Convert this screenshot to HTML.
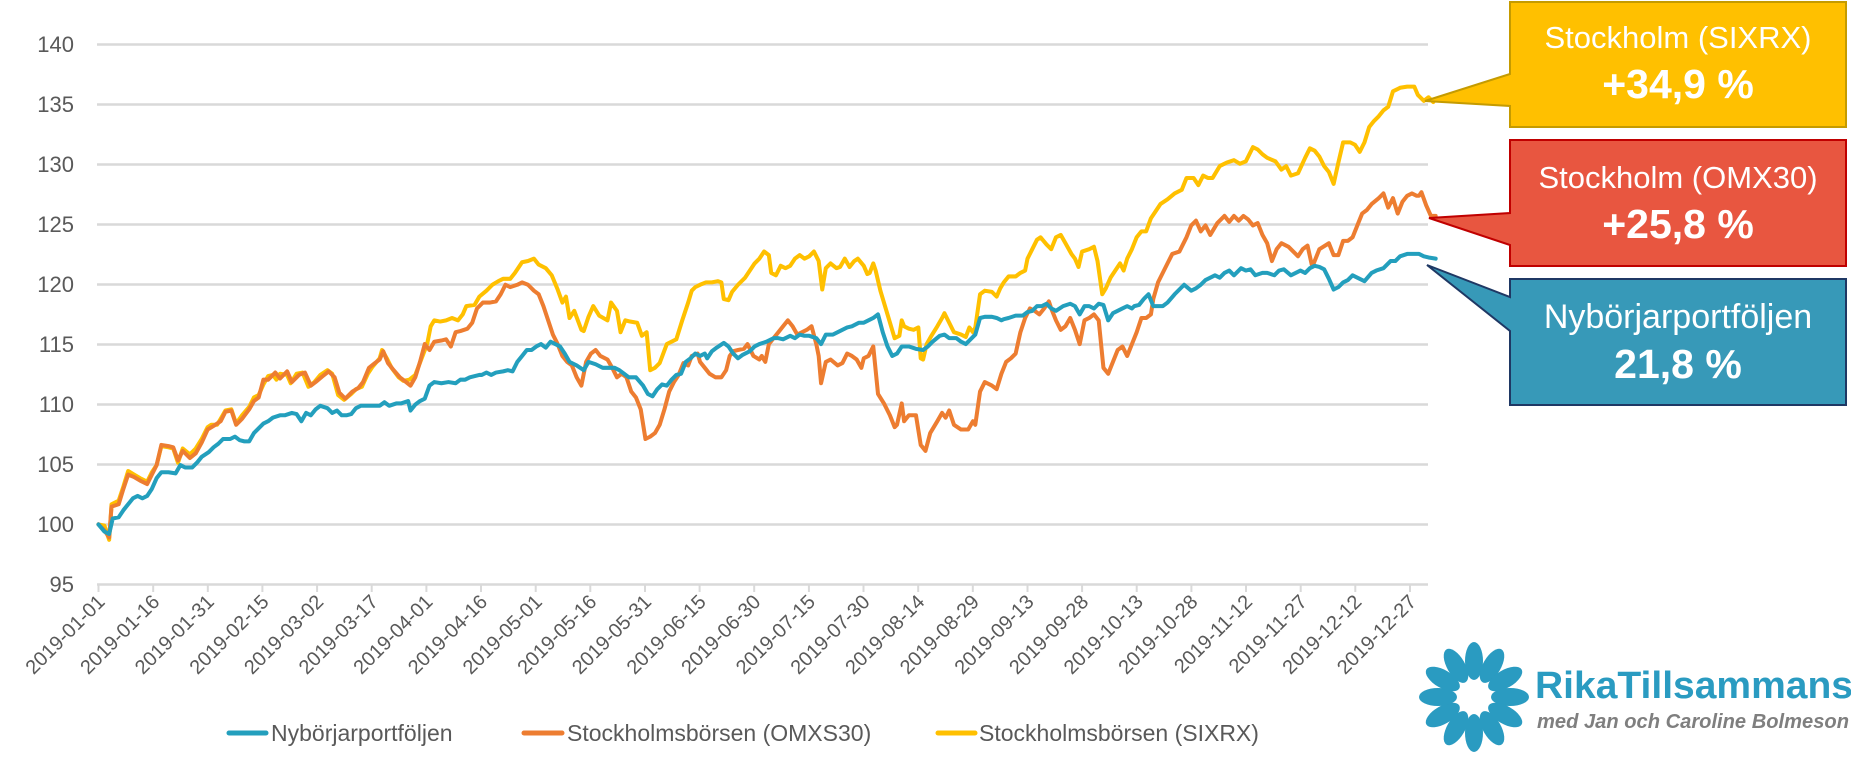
<!DOCTYPE html>
<html><head><meta charset="utf-8"><style>
html,body{margin:0;padding:0;background:#fff;}
svg{display:block;}
text{font-family:"Liberation Sans",sans-serif;}
</style></head><body>
<svg width="1851" height="765" viewBox="0 0 1851 765" xmlns="http://www.w3.org/2000/svg">
<g stroke="#d9d9d9" stroke-width="2.5">
<line x1="97" y1="44.5" x2="1428" y2="44.5"/>
<line x1="97" y1="104.5" x2="1428" y2="104.5"/>
<line x1="97" y1="164.5" x2="1428" y2="164.5"/>
<line x1="97" y1="224.5" x2="1428" y2="224.5"/>
<line x1="97" y1="284.5" x2="1428" y2="284.5"/>
<line x1="97" y1="344.5" x2="1428" y2="344.5"/>
<line x1="97" y1="404.5" x2="1428" y2="404.5"/>
<line x1="97" y1="464.5" x2="1428" y2="464.5"/>
<line x1="97" y1="524.5" x2="1428" y2="524.5"/>
<line x1="97" y1="584.5" x2="1428" y2="584.5"/>
</g>
<g fill="#595959" font-size="22" text-anchor="end">
<text x="74" y="52">140</text><text x="74" y="112">135</text><text x="74" y="172">130</text>
<text x="74" y="232">125</text><text x="74" y="292">120</text><text x="74" y="352">115</text>
<text x="74" y="412">110</text><text x="74" y="472">105</text><text x="74" y="532">100</text>
<text x="74" y="592">95</text>
</g>
<g stroke="#d9d9d9" stroke-width="2">
<line x1="98.5" y1="584" x2="98.5" y2="592"/><line x1="153.2" y1="584" x2="153.2" y2="592"/><line x1="207.8" y1="584" x2="207.8" y2="592"/><line x1="262.4" y1="584" x2="262.4" y2="592"/><line x1="317.1" y1="584" x2="317.1" y2="592"/><line x1="371.7" y1="584" x2="371.7" y2="592"/><line x1="426.4" y1="584" x2="426.4" y2="592"/><line x1="481" y1="584" x2="481" y2="592"/><line x1="535.7" y1="584" x2="535.7" y2="592"/><line x1="590.3" y1="584" x2="590.3" y2="592"/><line x1="645" y1="584" x2="645" y2="592"/><line x1="699.6" y1="584" x2="699.6" y2="592"/><line x1="754.2" y1="584" x2="754.2" y2="592"/><line x1="808.9" y1="584" x2="808.9" y2="592"/><line x1="863.5" y1="584" x2="863.5" y2="592"/><line x1="918.2" y1="584" x2="918.2" y2="592"/><line x1="972.8" y1="584" x2="972.8" y2="592"/><line x1="1027.5" y1="584" x2="1027.5" y2="592"/><line x1="1082.1" y1="584" x2="1082.1" y2="592"/><line x1="1136.7" y1="584" x2="1136.7" y2="592"/><line x1="1191.4" y1="584" x2="1191.4" y2="592"/><line x1="1246" y1="584" x2="1246" y2="592"/><line x1="1300.7" y1="584" x2="1300.7" y2="592"/><line x1="1355.3" y1="584" x2="1355.3" y2="592"/><line x1="1410" y1="584" x2="1410" y2="592"/>
</g>
<g fill="#595959" font-size="20" text-anchor="end">
<text transform="translate(106,603) rotate(-45)">2019-01-01</text>
<text transform="translate(160.7,603) rotate(-45)">2019-01-16</text>
<text transform="translate(215.3,603) rotate(-45)">2019-01-31</text>
<text transform="translate(270,603) rotate(-45)">2019-02-15</text>
<text transform="translate(324.6,603) rotate(-45)">2019-03-02</text>
<text transform="translate(379.2,603) rotate(-45)">2019-03-17</text>
<text transform="translate(433.9,603) rotate(-45)">2019-04-01</text>
<text transform="translate(488.5,603) rotate(-45)">2019-04-16</text>
<text transform="translate(543.2,603) rotate(-45)">2019-05-01</text>
<text transform="translate(597.8,603) rotate(-45)">2019-05-16</text>
<text transform="translate(652.5,603) rotate(-45)">2019-05-31</text>
<text transform="translate(707.1,603) rotate(-45)">2019-06-15</text>
<text transform="translate(761.7,603) rotate(-45)">2019-06-30</text>
<text transform="translate(816.4,603) rotate(-45)">2019-07-15</text>
<text transform="translate(871,603) rotate(-45)">2019-07-30</text>
<text transform="translate(925.7,603) rotate(-45)">2019-08-14</text>
<text transform="translate(980.3,603) rotate(-45)">2019-08-29</text>
<text transform="translate(1035,603) rotate(-45)">2019-09-13</text>
<text transform="translate(1089.6,603) rotate(-45)">2019-09-28</text>
<text transform="translate(1144.2,603) rotate(-45)">2019-10-13</text>
<text transform="translate(1198.9,603) rotate(-45)">2019-10-28</text>
<text transform="translate(1253.5,603) rotate(-45)">2019-11-12</text>
<text transform="translate(1308.2,603) rotate(-45)">2019-11-27</text>
<text transform="translate(1362.8,603) rotate(-45)">2019-12-12</text>
<text transform="translate(1417.5,603) rotate(-45)">2019-12-27</text>
</g>
<g transform="scale(1.1865)" fill="none" stroke-width="3.4" stroke-linejoin="round" stroke-linecap="round">
<polyline stroke="#FFC000" points="83,442 88,443 92,455 94,425 100,422 104,410 108,397 113,400 118,403 124,406 128,398 132,392 136,376 142,377 146,378 150,390 154,378 160,383 165,378 170,370 175,360 178,358 183,358 186,353 190,346 195,345 199,357 204,350 210,343 214,335 218,333 222,324 226,317 230,316 233,320 236,315 242,316 245,323 250,315 255,314 260,326 265,322 270,316 276,312 280,315 285,333 290,337 296,332 300,328 305,326 310,315 314,309 320,302 322,295 326,302 330,310 336,318 340,321 345,320 350,316 355,303 360,290 363,275 366,270 371,271 376,270 381,268 386,270 390,265 393,258 400,257 404,250 410,245 415,240 420,237 424,235 430,235 434,230 440,221 445,220 450,218 454,223 460,226 465,232 470,244 474,255 477,250 480,268 484,262 490,278 492,279 496,267 500,258 505,266 512,270 515,255 520,262 523,280 527,270 531,271 537,272 541,283 545,280 548,312 552,310 556,306 562,290 566,288 570,286 575,270 580,255 583,245 586,242 590,240 595,238 600,238 605,237 608,238 610,252 614,253 617,246 622,240 628,234 632,228 636,222 640,218 644,212 648,215 650,230 654,232 658,224 662,226 666,224 670,218 674,215 678,218 682,216 686,212 690,220 693,244 696,226 700,222 705,226 708,225 712,218 716,225 720,220 723,218 728,224 731,231 733,230 736,222 738,228 742,245 748,265 754,285 758,283 760,270 762,275 766,277 770,278 774,276 776,302 778,303 781,290 785,283 790,275 794,268 796,264 800,272 804,280 810,282 814,284 817,276 820,280 822,276 826,248 830,245 836,246 840,250 843,243 846,238 850,233 856,233 860,230 864,228 866,218 870,210 874,202 877,200 882,206 886,210 890,200 894,198 898,205 903,214 906,218 909,225 912,212 918,210 922,208 925,220 929,248 932,243 936,234 940,228 944,222 947,228 950,218 954,210 958,200 962,195 966,195 970,184 974,178 978,172 984,168 990,163 996,160 1000,150 1006,150 1010,156 1014,148 1018,150 1022,150 1028,140 1034,137 1040,135 1045,138 1050,136 1056,124 1060,126 1064,130 1068,133 1075,136 1080,143 1084,140 1088,148 1094,146 1100,133 1104,125 1108,127 1112,132 1116,140 1120,145 1124,155 1128,137 1132,120 1138,120 1142,122 1146,128 1150,120 1154,107 1158,102 1162,98 1166,93 1170,90 1174,77 1180,74 1186,73 1192,73 1195,80 1200,85 1204,82 1208,86"/>
<polyline stroke="#ED7D31" points="83,442 88,447 92,453 94,427 100,425 104,412 108,400 113,402 118,405 124,408 128,400 132,392 136,375 142,376 146,377 150,388 154,380 160,386 165,382 170,373 175,362 180,359 186,355 190,347 195,346 199,358 204,353 210,345 214,338 218,335 222,320 226,320 232,314 236,319 242,313 246,322 252,316 257,314 262,325 266,322 272,317 277,313 282,318 286,331 291,336 297,330 302,327 306,322 311,310 316,306 320,303 323,296 327,306 331,311 337,318 341,321 346,325 350,318 354,305 358,290 362,295 366,288 372,287 376,286 380,292 384,280 388,279 394,277 398,272 402,260 407,255 413,255 418,254 422,248 426,240 430,242 436,240 440,238 445,240 450,245 454,248 458,258 462,270 466,282 470,290 474,300 478,305 482,308 486,318 490,325 494,305 498,298 502,295 506,300 512,303 516,310 520,318 524,315 528,318 532,330 536,335 540,345 544,370 548,368 552,365 556,358 560,345 564,330 568,322 572,316 576,306 580,308 583,300 588,298 590,305 594,310 598,315 603,318 608,318 612,312 615,300 618,296 622,295 627,294 630,290 635,300 640,303 642,300 645,305 648,290 652,285 656,280 660,275 664,270 668,275 672,282 676,280 680,278 684,275 688,290 690,300 692,323 696,305 700,303 706,308 710,306 714,298 718,300 722,303 726,310 728,302 732,300 736,292 740,332 745,340 750,350 754,360 756,358 760,340 762,355 766,350 772,350 776,375 780,380 784,365 790,355 794,348 797,352 800,346 804,358 810,362 816,362 820,355 822,358 826,330 830,322 836,325 840,328 844,315 848,305 852,302 856,298 860,280 864,268 868,260 872,262 876,265 880,260 884,254 886,260 890,270 894,278 898,275 902,268 906,278 910,290 914,270 918,268 922,265 926,270 930,310 934,315 938,305 942,295 946,292 950,300 954,290 958,280 962,268 966,268 970,265 972,252 976,238 980,230 984,222 988,214 994,212 1000,200 1004,190 1008,186 1012,195 1016,190 1020,198 1026,188 1032,182 1036,187 1040,182 1044,186 1048,182 1052,185 1056,190 1060,188 1064,198 1068,205 1072,220 1076,210 1080,205 1086,208 1090,212 1094,216 1098,210 1102,207 1106,225 1112,210 1120,205 1124,215 1128,215 1132,203 1136,203 1140,200 1144,190 1148,180 1152,177 1156,172 1162,167 1166,163 1170,175 1174,167 1178,180 1182,170 1186,165 1190,163 1194,165 1196,165 1198,162 1202,173 1206,182 1210,182"/>
<polyline stroke="#239FBD" points="83,442 88,448 92,450 95,437 100,436 104,430 108,425 112,420 116,418 120,420 124,418 128,412 132,403 136,398 142,398 148,399 152,392 156,394 162,394 166,390 170,385 176,381 180,377 184,374 188,370 194,370 198,368 202,371 206,372 210,372 214,365 218,361 222,357 226,355 230,352 236,350 240,350 246,348 250,349 254,355 258,348 262,350 266,345 270,342 276,344 280,348 284,346 288,350 292,350 296,349 300,344 304,342 310,342 315,342 320,342 324,339 328,342 334,340 338,340 344,338 346,346 350,341 354,338 358,336 362,325 366,322 372,323 378,322 384,323 388,320 392,320 396,318 404,316 406,316 410,314 414,316 418,314 424,313 428,312 432,313 436,305 440,300 444,295 448,295 452,292 456,290 460,293 464,288 468,290 472,292 476,298 480,305 486,308 492,312 496,305 502,307 508,310 512,310 518,310 522,312 526,315 530,318 536,318 542,325 546,332 550,334 554,328 558,324 562,325 566,320 570,316 574,315 578,305 582,302 586,298 590,300 594,298 596,302 600,296 604,293 610,289 614,292 618,298 622,302 626,299 632,296 636,292 640,290 646,288 652,285 656,285 660,286 666,283 670,285 674,282 678,283 682,283 688,285 692,290 696,282 702,282 706,280 710,278 714,276 718,275 724,272 728,272 732,270 736,268 740,265 744,280 748,292 752,300 756,298 760,292 766,292 772,294 778,295 782,292 786,288 792,283 796,282 800,285 806,285 810,288 814,290 818,286 822,282 826,268 830,267 836,267 840,268 844,270 846,269 850,268 856,266 862,266 866,263 870,262 874,258 878,258 882,256 886,260 890,262 896,258 902,256 906,258 910,265 914,258 918,258 922,260 926,256 930,257 934,270 938,264 942,262 946,260 950,258 954,260 956,258 960,257 964,252 968,248 972,258 976,258 980,258 984,255 990,248 994,244 998,240 1004,245 1008,243 1012,240 1016,236 1020,234 1024,232 1028,234 1032,230 1036,228 1040,232 1046,226 1050,228 1054,227 1058,232 1064,230 1068,230 1074,232 1078,228 1082,227 1088,232 1092,230 1096,228 1100,230 1104,226 1108,224 1112,225 1116,227 1120,235 1124,244 1128,242 1132,238 1136,236 1140,232 1144,234 1150,237 1156,230 1160,228 1166,226 1172,220 1176,220 1180,216 1186,214 1192,214 1196,214 1200,216 1204,217 1210,218"/>
</g>
<!-- callouts -->
<path d="M1510,2 H1846 V127 H1510 V106 L1425,101 L1510,74 Z" fill="#FFC000" stroke="#C59B00" stroke-width="2"/>
<text x="1678" y="48" fill="#fff" font-size="31" text-anchor="middle">Stockholm (SIXRX)</text>
<text x="1678" y="98" fill="#fff" font-size="41" font-weight="bold" text-anchor="middle">+34,9 %</text>
<path d="M1510,140 H1846 V266 H1510 V245 L1429,218 L1510,213 Z" fill="#E85640" stroke="#C00000" stroke-width="2"/>
<text x="1678" y="188" fill="#fff" font-size="31" text-anchor="middle">Stockholm (OMX30)</text>
<text x="1678" y="238" fill="#fff" font-size="41" font-weight="bold" text-anchor="middle">+25,8 %</text>
<path d="M1510,279 H1846 V405 H1510 V331 L1427,265 L1510,297 Z" fill="#3799B8" stroke="#1F3864" stroke-width="2"/>
<text x="1678" y="328" fill="#fff" font-size="34" text-anchor="middle">Nybörjarportföljen</text>
<text x="1678" y="378" fill="#fff" font-size="41" font-weight="bold" text-anchor="middle">21,8 %</text>
<!-- legend -->
<g font-size="23" fill="#595959">
<line x1="229" y1="733" x2="266" y2="733" stroke="#239FBD" stroke-width="5" stroke-linecap="round"/>
<text x="271" y="741">Nybörjarportföljen</text>
<line x1="524" y1="733" x2="562" y2="733" stroke="#ED7D31" stroke-width="5" stroke-linecap="round"/>
<text x="567" y="741">Stockholmsbörsen (OMXS30)</text>
<line x1="938" y1="733" x2="975" y2="733" stroke="#FFC000" stroke-width="5" stroke-linecap="round"/>
<text x="979" y="741">Stockholmsbörsen (SIXRX)</text>
</g>
<!-- logo -->
<g transform="translate(1474,697)" fill="#2A9BC1">
<g id="pet"><ellipse cx="0" cy="-36" rx="9" ry="19"/></g>
<use href="#pet" transform="rotate(30)"/><use href="#pet" transform="rotate(60)"/><use href="#pet" transform="rotate(90)"/>
<use href="#pet" transform="rotate(120)"/><use href="#pet" transform="rotate(150)"/><use href="#pet" transform="rotate(180)"/>
<use href="#pet" transform="rotate(210)"/><use href="#pet" transform="rotate(240)"/><use href="#pet" transform="rotate(270)"/>
<use href="#pet" transform="rotate(300)"/><use href="#pet" transform="rotate(330)"/>
</g>
<text x="1535" y="698" fill="#2A9BC1" font-size="38" font-weight="bold" textLength="318" lengthAdjust="spacingAndGlyphs">RikaTillsammans</text>
<text x="1537" y="728" fill="#7f7f7f" font-size="20" font-style="italic" font-weight="bold" font-family="Liberation Serif,serif" textLength="312" lengthAdjust="spacingAndGlyphs">med Jan och Caroline Bolmeson</text>
</svg>
</body></html>
